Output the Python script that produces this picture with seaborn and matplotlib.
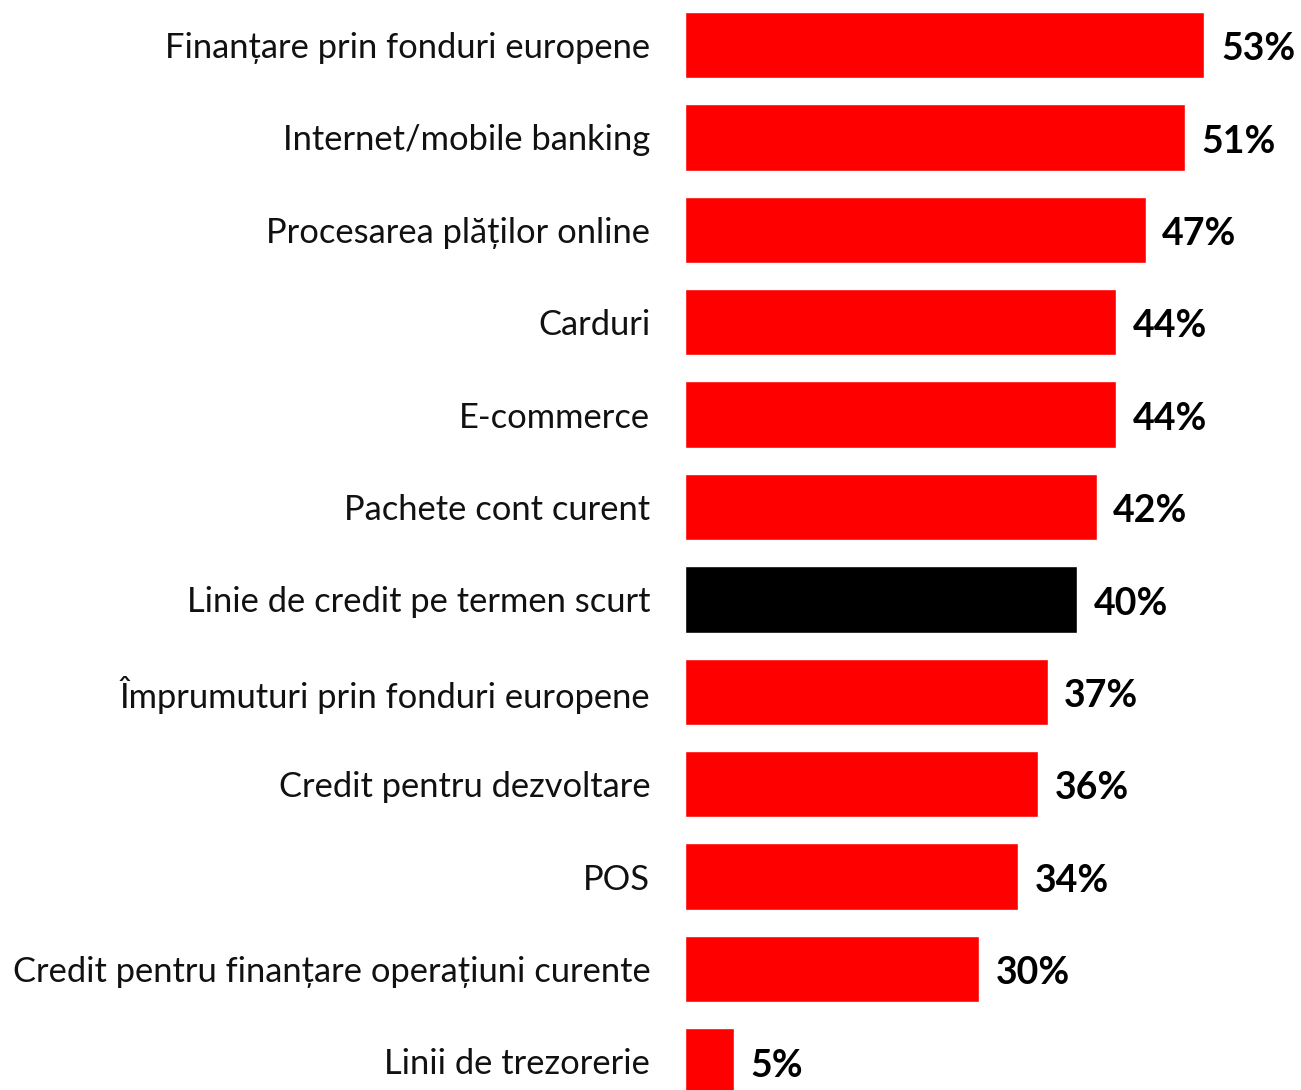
import pandas as pd
import seaborn as sns
import matplotlib.pyplot as plt

# Data
categories = [
    'Finanțare prin fonduri europene',
    'Internet/mobile banking',
    'Procesarea plăților online',
    'Carduri',
    'E-commerce',
    'Pachete cont curent',
    'Linie de credit pe termen scurt',
    'Împrumuturi prin fonduri europene',
    'Credit pentru dezvoltare',
    'POS',
    'Credit pentru finanțare operațiuni curente',
    'Linii de trezorerie',
]
values = [53, 51, 47, 44, 44, 42, 40, 37, 36, 34, 30, 5]
highlight = 'Linie de credit pe termen scurt'

df = pd.DataFrame({'categorie': categories, 'procent': values})
palette = {c: ('#000000' if c == highlight else '#FF0000') for c in categories}

sns.set_theme(style="white")
plt.rcParams['font.family'] = ['Lato', 'DejaVu Sans']

fig = plt.figure(figsize=(13.01, 10.9), dpi=100, facecolor='white')
ax = fig.add_axes([0.5265, 0, 0.4735, 1])

sns.barplot(data=df, y='categorie', x='procent', hue='categorie',
            palette=palette, order=categories, width=0.72,
            legend=False, ax=ax, saturation=1)

# Value labels
for cont in ax.containers:
    anns = ax.bar_label(cont, labels=[f'{v:.0f}%' for v in cont.datavalues],
                        padding=12, fontsize=27, fontweight='bold', color='black')
    for a in anns:
        a.xyann = (12, -3)

ax.set_xlim(0, 62.85)
ax.set_ylim(11.31, -0.487)
ax.set_xlabel('')
ax.set_ylabel('')
ax.set_xticks([])
ax.tick_params(axis='y', length=0, pad=25, labelsize=24.8, labelcolor='#111111')
sns.despine(ax=ax, left=True, bottom=True)

plt.savefig('out.png', dpi=100, facecolor='white')
